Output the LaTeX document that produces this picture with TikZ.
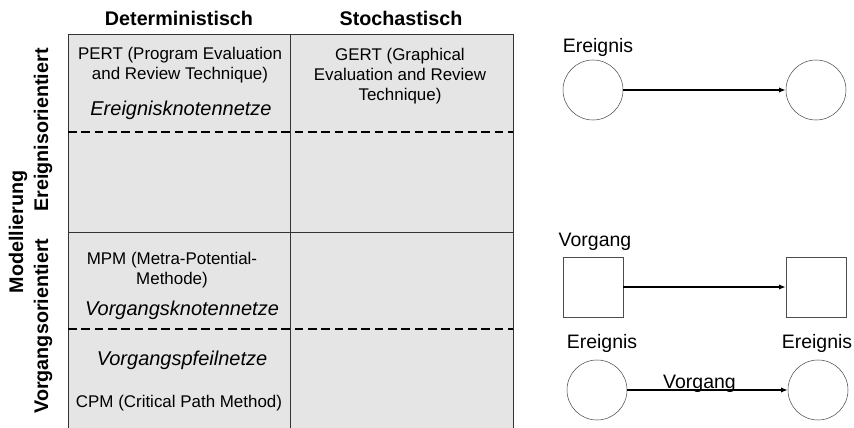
\documentclass[tikz,border=0pt]{standalone}
\usepackage{fontspec}
\setmainfont{Liberation Sans}
\usetikzlibrary{arrows.meta}

\tikzset{
    kopf/.style={font=\fontsize{14.8}{17}\selectfont\bfseries},
    eintrag/.style={font=\fontsize{12.7}{15.2}\selectfont, align=center, inner sep=0pt},
    netz/.style={font=\fontsize{15}{18}\selectfont\itshape, inner sep=0pt},
    marke/.style={font=\fontsize{14.6}{17}\selectfont, inner sep=0pt},
    trenn/.style={line width=1.5pt, dash pattern=on 6.5pt off 3.5pt},
    ereignis/.style={draw=black!70, circle, minimum size=45pt, inner sep=0pt},
    vorgang/.style={draw=black!70, rectangle, minimum size=45pt, inner sep=0pt},
    pfeil/.style={-{Latex[length=5pt,width=4pt]}, line width=1pt},
}

\begin{document}
\begin{tikzpicture}[x=0.75pt, y=-0.75pt]
        \useasboundingbox (0,0) rectangle (854,428);

        % Tabelle
        \fill[black!10] (68,35) rectangle (513,428);
        \draw[black!80, line width=0.75pt] (68,428) -- (68,35) -- (513,35) -- (513,428);
        \draw[black!80, line width=0.75pt] (290,35) -- (290,428);
        \draw[black!80, line width=0.75pt] (68,232) -- (513,232);
        \draw[trenn] (68,132) -- (513,132);
        \draw[trenn] (68,329) -- (513,329);

        \node[kopf] (det) at (179,18) {Deterministisch};
        \node[kopf] (sto) at (401,18) {Stochastisch};
        \node[kopf, rotate=90] (ereignisor) at (43,130) {Ereignisorientiert};
        \node[kopf, rotate=90] (vorgangsor) at (43,326) {Vorgangsorientiert};
        \node[kopf, rotate=90] (modell) at (18,232) {Modellierung};

        \node[eintrag] (pert) at (180,65) {PERT (Program Evaluation\\and Review Technique)};
        \node[netz] (ekn) at (181,110) {Ereignisknotennetze};
        \node[eintrag] (gert) at (400,76) {GERT (Graphical\\Evaluation and Review\\Technique)};
        \node[eintrag] (mpm) at (172,270) {MPM (Metra-Potential-\\Methode)};
        \node[netz] (vkn) at (182,310) {Vorgangsknotennetze};
        \node[netz] (vpn) at (182,360) {Vorgangspfeilnetze};
        \node[eintrag] (cpm) at (179,403) {CPM (Critical Path Method)};

        % Ereignisknoten
        \node[ereignis] (e1) at (593,90) {};
        \node[ereignis] (e2) at (816,90) {};
        \node[marke] (e1txt) at (598,47) {Ereignis};
        \draw[pfeil, line width=1.4pt] (e1) -- (e2);

        % Vorgangsknoten
        \node[vorgang] (v1) at (593,287) {};
        \node[vorgang] (v2) at (816,287) {};
        \node[marke] (v1txt) at (595,242) {Vorgang};
        \draw[pfeil] (v1) -- (v2);

        % Vorgangspfeil
        \node[ereignis] (p1) at (597,390) {};
        \node[ereignis] (p2) at (818,390) {};
        \node[marke] (p1txt) at (602,343) {Ereignis};
        \node[marke] (p2txt) at (817,343) {Ereignis};
        \draw[pfeil] (p1) -- node[marke, pos=0.45, anchor=base, yshift=1.5pt] (vtxt) {Vorgang} (p2);
    \end{tikzpicture}
\end{document}
